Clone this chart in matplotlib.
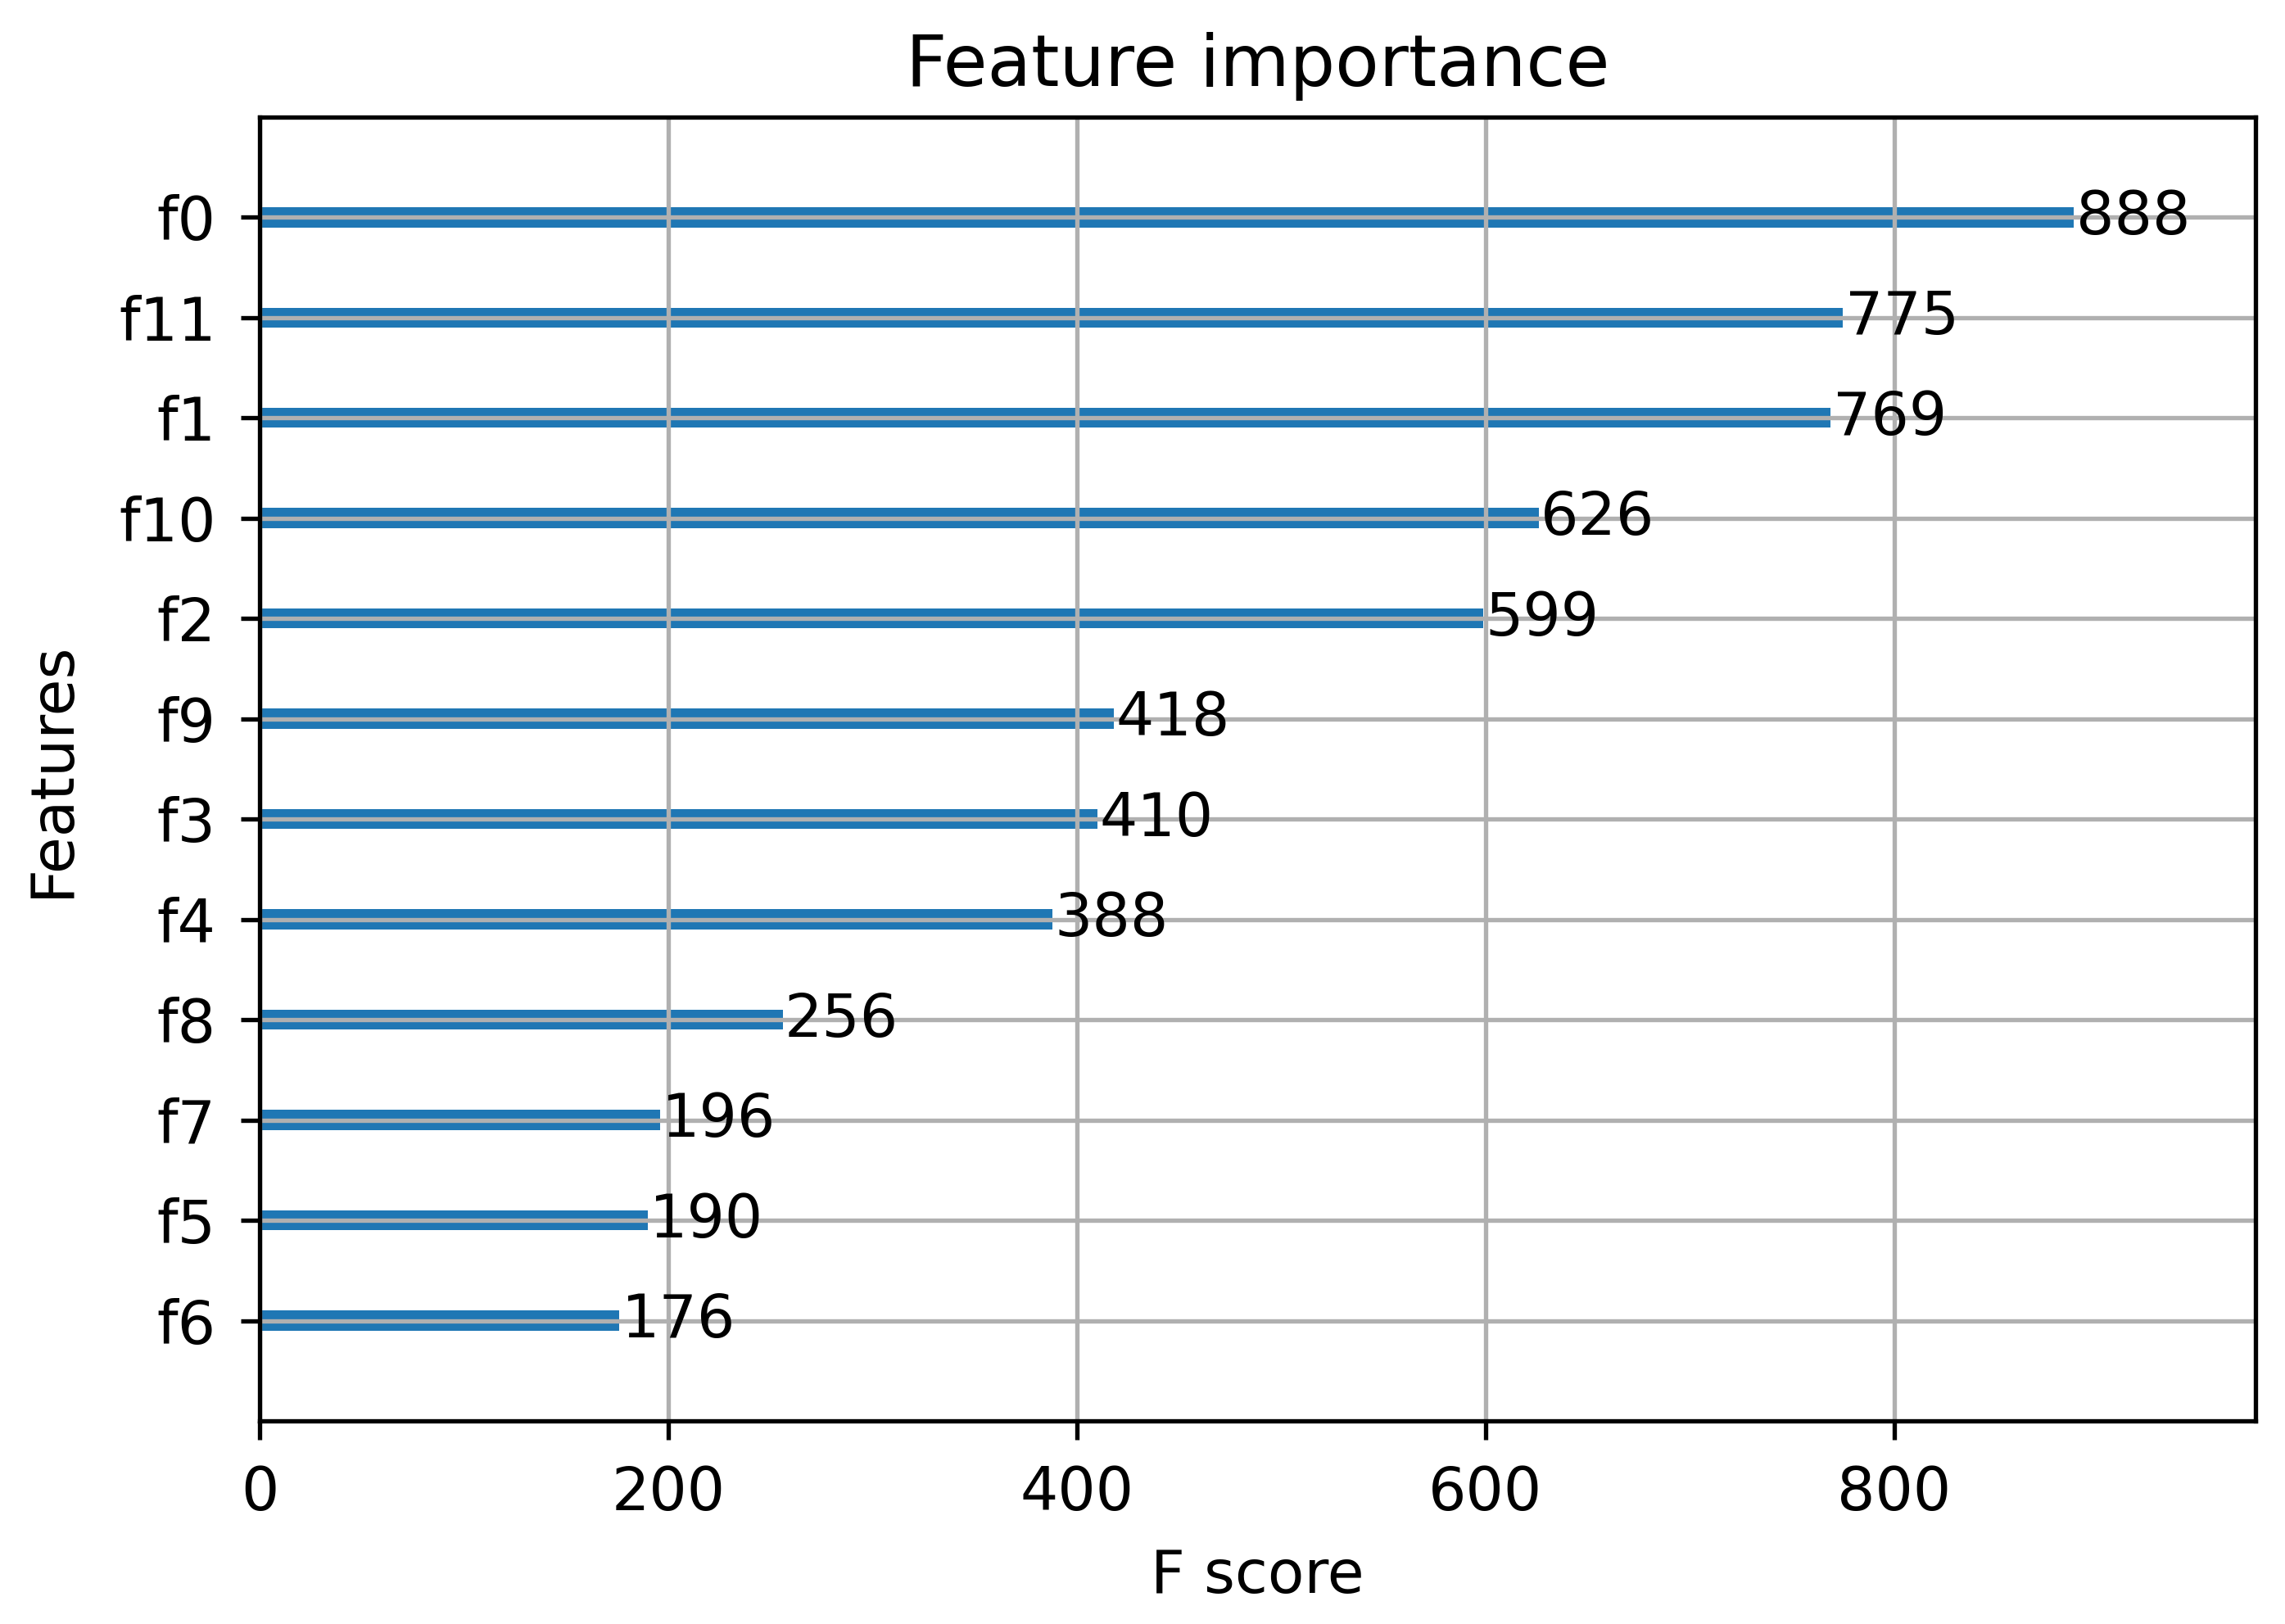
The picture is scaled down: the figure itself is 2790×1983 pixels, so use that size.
import matplotlib
matplotlib.use("Agg")
import matplotlib.pyplot as plt

features = ["f6", "f5", "f7", "f8", "f4", "f3", "f9", "f2", "f10", "f1", "f11", "f0"]
scores = [176, 190, 196, 256, 388, 410, 418, 599, 626, 769, 775, 888]

s = 1.6
fs = 17.5
plt.rcParams.update({
    "font.family": "DejaVu Sans",
    "font.size": fs,
    "axes.titlesize": 21,
    "axes.labelsize": fs,
    "axes.titlepad": 9,
    "axes.linewidth": 0.8 * s,
    "grid.linewidth": 0.8 * s,
    "xtick.major.width": 0.8 * s,
    "ytick.major.width": 0.8 * s,
    "xtick.major.size": 3.5 * s,
    "ytick.major.size": 3.5 * s,
    "xtick.major.pad": 4.5 * s,
    "ytick.major.pad": 4.5 * s,
})

fig = plt.figure(figsize=(9.3, 6.61), dpi=300)
ax = fig.add_axes([0.1136, 0.125, 0.8734, 0.803])

ylocs = list(range(len(scores)))
ax.barh(ylocs, scores, height=0.2, align="center", color="C0")
for x, y in zip(scores, ylocs):
    ax.text(x + 1, y, str(x), va="center")

ax.set_yticks(ylocs)
ax.set_yticklabels(features)
ax.set_xlim(0, max(scores) * 1.1)
ax.set_ylim(-1, len(scores))
ax.set_title("Feature importance")
ax.set_xlabel("F score", labelpad=7)
ax.set_ylabel("Features", labelpad=11)
ax.grid(True)

fig.savefig("out.png", dpi=300)
